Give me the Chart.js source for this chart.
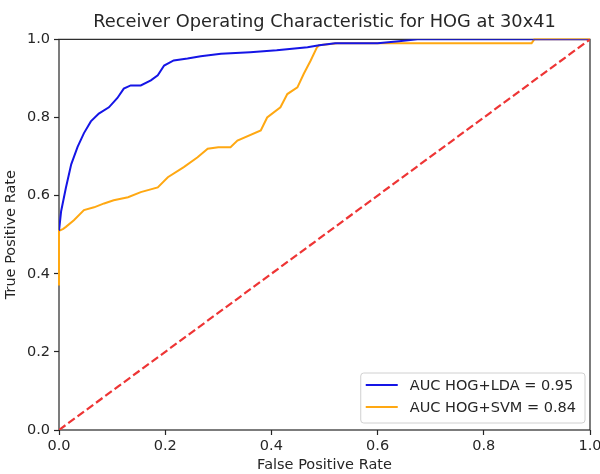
<!DOCTYPE html>
<html lang="en">
<head>
  <meta charset="UTF-8">
  <title>ROC HOG 30x41</title>
  <script src="https://cdn.jsdelivr.net/npm/chart.js@4.4.0/dist/chart.umd.min.js"></script>
  <style>
    html, body { margin: 0; padding: 0; background: #fff; }
    #wrap { width: 600px; height: 474px; }
  </style>
</head>
<body>
  <div id="wrap"><canvas id="roc"></canvas></div>
  <script>
    // ROC points
    const ldaFpr = [0, 0.004, 0.013, 0.023, 0.035, 0.047, 0.06, 0.075, 0.094, 0.11, 0.122, 0.135, 0.154, 0.173, 0.186, 0.198, 0.216, 0.242, 0.267, 0.305, 0.36, 0.41, 0.468, 0.49, 0.52, 0.6, 0.64, 0.675, 1.0];
    const ldaTpr = [0.51, 0.56, 0.62, 0.68, 0.725, 0.76, 0.79, 0.81, 0.826, 0.85, 0.874, 0.882, 0.882, 0.895, 0.908, 0.933, 0.946, 0.951, 0.957, 0.963, 0.967, 0.972, 0.98, 0.985, 0.99, 0.99, 0.995, 1.0, 1.0];
    const svmFpr = [0, 0, 0.008, 0.013, 0.028, 0.047, 0.066, 0.085, 0.103, 0.13, 0.154, 0.186, 0.205, 0.235, 0.261, 0.28, 0.30, 0.323, 0.336, 0.38, 0.392, 0.417, 0.43, 0.449, 0.461, 0.474, 0.486, 0.49, 0.524, 0.6, 0.89, 0.895, 1.0];
    const svmTpr = [0.37, 0.51, 0.515, 0.52, 0.537, 0.563, 0.57, 0.58, 0.588, 0.596, 0.609, 0.621, 0.647, 0.673, 0.698, 0.72, 0.724, 0.724, 0.741, 0.767, 0.8, 0.826, 0.86, 0.877, 0.912, 0.946, 0.98, 0.985, 0.99, 0.99, 0.99, 1.0, 1.0];
    const chanceX = [0, 1];
    const chanceY = [0, 1];
    const labels = ['AUC HOG+LDA = 0.95', 'AUC HOG+SVM = 0.84'];
    const tickValues = [0.0, 0.2, 0.4, 0.6, 0.8, 1.0];

    const toPts = (xs, ys) => xs.map((x, i) => ({ x: x, y: ys[i] }));
    const ink = '#262626';
    const font = 'DejaVu Sans';

    // axes frame, drawn under the curves so the orange start on x=0 shows
    const framePlugin = {
      id: 'frame',
      beforeDatasetsDraw(chart) {
        const a = chart.chartArea, ctx = chart.ctx;
        ctx.save();
        ctx.strokeStyle = ink;
        ctx.lineWidth = 1.2;
        ctx.strokeRect(a.left, a.top, a.right - a.left, a.bottom - a.top);
        ctx.restore();
      }
    };

    // legend box in the lower right corner
    const legendPlugin = {
      id: 'boxLegend',
      afterDraw(chart) {
        const a = chart.chartArea, ctx = chart.ctx;
        const items = chart.data.datasets.filter(d => d.label);
        ctx.save();
        ctx.font = '14.5px "' + font + '"';
        const textW = Math.max(...items.map(d => ctx.measureText(d.label).width));
        const handle = 32, gap = 12, pad = 5, rowH = 22;
        const w = pad + handle + gap + textW + 9;
        const h = rowH * items.length + 6;
        const x0 = a.right - 5 - w, y0 = a.bottom - 7 - h;
        ctx.fillStyle = 'rgba(255,255,255,0.8)';
        ctx.strokeStyle = '#d0d0d0';
        ctx.lineWidth = 1;
        ctx.beginPath();
        ctx.roundRect(x0, y0, w, h, 3);
        ctx.fill();
        ctx.stroke();
        items.forEach((d, i) => {
          const cy = y0 + 12 + i * rowH;
          ctx.strokeStyle = d.borderColor;
          ctx.lineWidth = 2;
          ctx.beginPath();
          ctx.moveTo(x0 + pad, cy);
          ctx.lineTo(x0 + pad + handle, cy);
          ctx.stroke();
          ctx.fillStyle = ink;
          ctx.textBaseline = 'middle';
          ctx.fillText(d.label, x0 + pad + handle + gap, cy + 1);
        });
        ctx.restore();
      }
    };

    const axisCommon = {
      type: 'linear',
      min: 0,
      max: 1,
      border: { display: false },
      grid: { display: true, drawOnChartArea: false, drawTicks: true, tickLength: 5, tickWidth: 1.2, color: ink },
      afterBuildTicks: s => { s.ticks = tickValues.map(v => ({ value: v })); }
    };

    new Chart(document.getElementById('roc'), {
      type: 'scatter',
      data: {
        datasets: [
          { label: labels[0], data: toPts(ldaFpr, ldaTpr), borderColor: '#1515e6', borderWidth: 2, order: 1 },
          { label: labels[1], data: toPts(svmFpr, svmTpr), borderColor: '#ffa812', borderWidth: 2, order: 2,
            clip: { left: 2, top: 1, right: 1, bottom: 1 } },
          { label: '', data: toPts(chanceX, chanceY), borderColor: '#ee3535', borderWidth: 2.2, borderDash: [8, 3.5], order: 0 }
        ]
      },
      options: {
        responsive: true,
        maintainAspectRatio: false,
        animation: false,
        showLine: true,
        elements: { point: { radius: 0, hoverRadius: 0 }, line: { tension: 0, fill: false } },
        layout: { padding: { left: 0, right: 10, top: 0, bottom: 0 } },
        plugins: {
          legend: { display: false },
          tooltip: { enabled: false },
          title: {
            display: true,
            fullSize: false,
            text: 'Receiver Operating Characteristic for HOG at 30x41',
            color: ink,
            font: { family: font, size: 17.8, weight: 'normal' },
            padding: { top: 11.5, bottom: 6.5 }
          }
        },
        scales: {
          x: Object.assign({}, axisCommon, {
            ticks: { color: ink, font: { family: font, size: 14.5 }, padding: 3, maxRotation: 0,
              callback: v => v.toFixed(1) },
            title: { display: true, text: 'False Positive Rate', color: ink,
              font: { family: font, size: 14.5 }, padding: { top: 0, bottom: 0 } },
            afterFit: s => { s.height = 44; s.paddingLeft = 0; s.paddingRight = 0; }
          }),
          y: Object.assign({}, axisCommon, {
            ticks: { color: ink, font: { family: font, size: 14.5 }, padding: 4,
              callback: v => v.toFixed(1) },
            title: { display: true, text: 'True Positive Rate', color: ink,
              font: { family: font, size: 14.5 }, padding: { top: 3, bottom: 0 } },
            afterFit: s => { s.width = 59; s.paddingTop = 0; s.paddingBottom = 0; }
          })
        }
      },
      plugins: [framePlugin, legendPlugin]
    });
  </script>
</body>
</html>
